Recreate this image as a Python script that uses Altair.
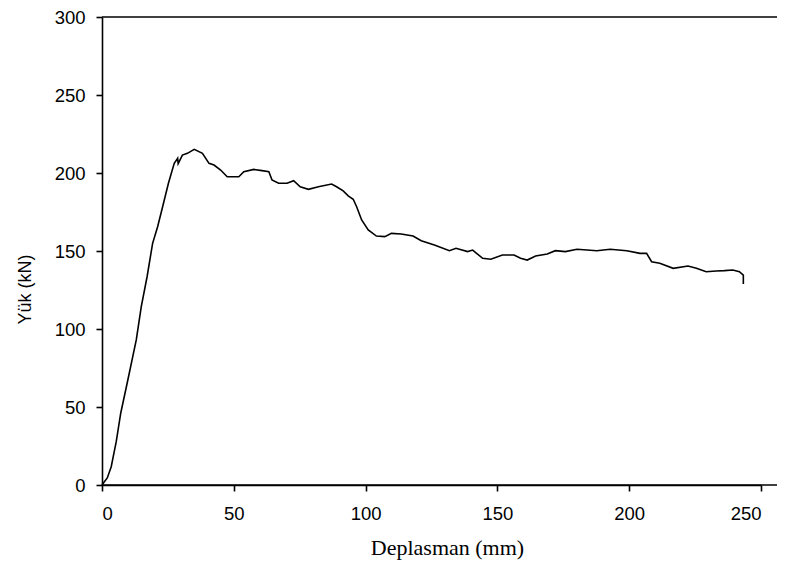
import altair as alt
import pandas as pd

deplasman = [
    0, 0.4, 2.0, 3.5, 5.4, 7.1, 9.8, 13, 14.9, 17.1, 19.2,
    21.1, 23, 25.2, 27.4, 28.7, 28.9, 30.5, 32.4, 35, 38.1,
    40.6, 42.5, 45, 47.5, 50.1, 51.9, 53.8, 57.6, 60.7, 63.3,
    64.5, 67, 70.2, 72.7, 75.2, 78.3, 82.1, 87.1, 89, 91.5,
    93.4, 95.3, 96.6, 98.5, 101, 104.1, 107.3, 109.8, 113.5, 118,
    121.1, 126.1, 131.8, 134.3, 138.7, 140.6, 144.4, 147.5, 151.9, 156.3,
    158.8, 161.3, 164.5, 168.9, 172, 175.8, 180.2, 184, 187.7, 192.8,
    199.1, 204.1, 206.6, 208.5, 211.6, 216.7, 222.3, 225.5, 229.2, 233,
    236.1, 239.3, 241.8, 243.3, 243.3,
]
yuk = [
    0, 1, 4.5, 11.7, 27.8, 46, 67.3, 93, 114.3, 133.5, 154.9,
    165.6, 178.4, 193.4, 206.2, 209.4, 206, 211.5, 212.6, 215.2, 212.6,
    206.2, 205.1, 201.9, 197.6, 197.6, 197.6, 200.8, 202.3, 201.5, 200.8,
    195.5, 193.4, 193.4, 195.1, 191.2, 189.5, 191.2, 192.9, 191.2, 188.5,
    185.3, 183.2, 178.4, 169.9, 163.5, 159.6, 159.2, 161.3, 160.9, 159.6,
    156.6, 153.8, 150.2, 151.7, 149.6, 150.6, 145.3, 144.7, 147.4, 147.4,
    145.3, 144.2, 146.8, 148.1, 150.2, 149.6, 151.1, 150.6, 150.2, 151.1,
    150.2, 148.5, 148.5, 143.1, 142.1, 138.9, 140.4, 138.9, 136.7, 137.2,
    137.4, 137.8, 136.7, 134.6, 128.8,
]
x_ticks = [0, 50, 100, 150, 200, 250]
y_ticks = [0, 50, 100, 150, 200, 250, 300]
frame_y = [0, 300]

df = pd.DataFrame({"x": deplasman, "y": yuk, "i": list(range(len(yuk)))})
frame = pd.DataFrame({"y": frame_y, "x0": [0, 0], "x1": [258, 258]})

xscale = alt.Scale(domain=[0, 250], nice=False, zero=False)
yscale = alt.Scale(domain=[0, 300], nice=False)

line = alt.Chart(df).mark_line(color="black", strokeWidth=1.6).encode(
    x=alt.X("x:Q", scale=xscale,
            axis=alt.Axis(values=x_ticks, title="Deplasman (mm)",
                          titleFont="Liberation Serif", titleFontWeight="normal",
                          titleFontSize=22, titlePadding=15, labelPadding=13,
                          titleX=345)),
    y=alt.Y("y:Q", scale=yscale,
            axis=alt.Axis(values=y_ticks, title="Yük (kN)",
                          titleFont="Liberation Sans", titleFontWeight="normal",
                          titleFontSize=18, titlePadding=20, labelPadding=11,
                          titleY=272)),
    order="i:Q",
)

border = alt.Chart(frame).mark_rule(color="black", strokeWidth=1.6).encode(
    x=alt.X("x0:Q", scale=xscale),
    x2="x1:Q",
    y=alt.Y("y:Q", scale=yscale),
)

chart = (line + border).properties(
    width=659, height=468,
    autosize=alt.AutoSizeParams(type="none"),
    padding={"left": 94, "top": 9, "right": 16, "bottom": 75},
).configure_view(stroke=None).configure_axis(
    grid=False,
    domainColor="black", domainWidth=1.6,
    tickColor="black", tickWidth=1.6, tickSize=6,
    labelFont="Liberation Sans", labelFontSize=18.5, labelColor="black",
    titleColor="black",
)

chart.save("out.html", embed_options={"renderer": "svg", "actions": False})
